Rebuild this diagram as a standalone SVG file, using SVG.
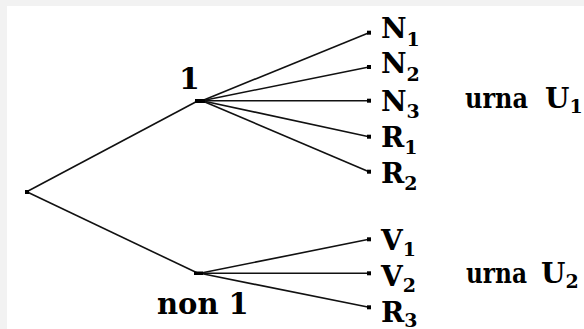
<svg xmlns="http://www.w3.org/2000/svg" width="584" height="329" viewBox="0 0 584 329">
<style>
.e{stroke:#111;stroke-width:1.6;fill:none}
.d{fill:#000}
</style>
<rect x="0" y="0" width="584" height="329" fill="#f2f2f2"/>
<rect x="7" y="6" width="577" height="323" fill="#ffffff"/>
<g id="connectors">
<line class="e" x1="26.7" y1="191.7" x2="198" y2="100.7"/>
<line class="e" x1="26.7" y1="191.7" x2="198" y2="273.3"/>
<line class="e" x1="202" y1="100.7" x2="369" y2="32.7"/>
<line class="e" x1="202" y1="100.7" x2="369" y2="67"/>
<line class="e" x1="202" y1="100.7" x2="369" y2="100.7"/>
<line class="e" x1="202" y1="100.7" x2="369" y2="136.7"/>
<line class="e" x1="202" y1="100.7" x2="369" y2="171.7"/>
<line class="e" x1="200" y1="273.3" x2="369" y2="239.3"/>
<line class="e" x1="200" y1="273.3" x2="369" y2="273.3"/>
<line class="e" x1="200" y1="273.3" x2="369" y2="307.3"/>
</g>
<g font-family="DejaVu Serif, serif" font-weight="bold" fill="#000">
<g id="root"><rect class="d" x="25" y="190" width="4" height="4"/></g>
<g id="node-1"><rect class="d" x="195" y="99" width="10" height="4"/><text x="179" y="89" font-size="30">1</text></g>
<g id="node-non1"><rect class="d" x="194" y="271.5" width="9" height="3.5"/><text x="157" y="314" font-size="29">non 1</text></g>
<g id="leaf-N1" font-size="28"><rect class="d" x="367" y="30.7" width="4" height="4"/><text x="381" y="38">N<tspan font-size="19" dy="8">1</tspan></text></g>
<g id="leaf-N2" font-size="28"><rect class="d" x="367" y="65" width="4" height="4"/><text x="381" y="73">N<tspan font-size="19" dy="8">2</tspan></text></g>
<g id="leaf-N3" font-size="28"><rect class="d" x="367" y="98.7" width="4" height="4"/><text x="381" y="111">N<tspan font-size="19" dy="7">3</tspan></text></g>
<g id="leaf-R1" font-size="28"><rect class="d" x="367" y="134.7" width="4" height="4"/><text x="381" y="147">R<tspan font-size="19" dy="7">1</tspan></text></g>
<g id="leaf-R2" font-size="28"><rect class="d" x="367" y="169.7" width="4" height="4"/><text x="381" y="183">R<tspan font-size="19" dy="7">2</tspan></text></g>
<g id="leaf-V1" font-size="28"><rect class="d" x="367" y="237.3" width="4" height="4"/><text x="381" y="250">V<tspan font-size="19" dy="6">1</tspan></text></g>
<g id="leaf-V2" font-size="28"><rect class="d" x="367" y="271.3" width="4" height="4"/><text x="381" y="286">V<tspan font-size="19" dy="6">2</tspan></text></g>
<g id="leaf-R3" font-size="28"><rect class="d" x="367" y="305.3" width="4" height="4"/><text x="381" y="322">R<tspan font-size="19" dy="5">3</tspan></text></g>
<g id="label-U1" font-size="28"><text x="465" y="108" textLength="63" lengthAdjust="spacingAndGlyphs">urna</text><text x="545" y="108">U<tspan font-size="19" dy="5">1</tspan></text></g>
<g id="label-U2" font-size="28"><text x="466" y="283" textLength="61" lengthAdjust="spacingAndGlyphs">urna</text><text x="541" y="283">U<tspan font-size="19" dy="5">2</tspan></text></g>
</g>
</svg>
